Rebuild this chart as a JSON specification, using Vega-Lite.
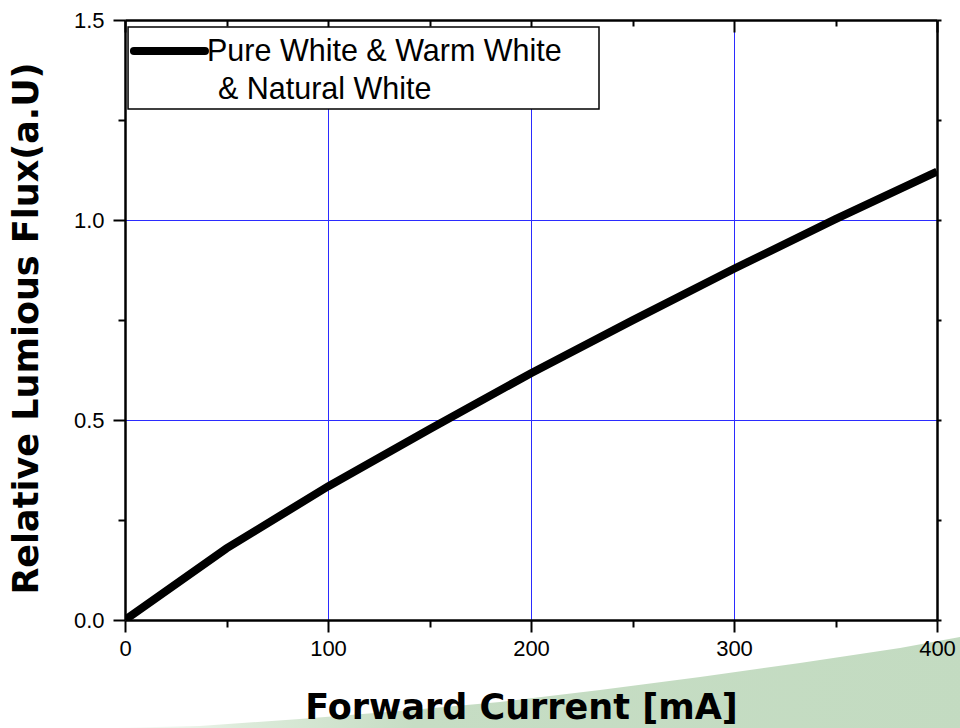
{
  "$schema": "https://vega.github.io/schema/vega-lite/v6.json",
  "width": 812,
  "height": 600,
  "autosize": {"type": "none"},
  "padding": {"left": 125, "top": 20, "right": 23, "bottom": 108},
  "background": "white",
  "config": {"view": {"stroke": null}},
  "datasets": {
    "curve": [
      {"current": 0, "flux": 0},
      {"current": 50, "flux": 0.179},
      {"current": 100, "flux": 0.334},
      {"current": 150, "flux": 0.477},
      {"current": 200, "flux": 0.617},
      {"current": 250, "flux": 0.749},
      {"current": 300, "flux": 0.878},
      {"current": 350, "flux": 1.002},
      {"current": 400, "flux": 1.121}
    ],
    "green": [
      {"gx": -7.4, "gy": -0.27, "gy2": -0.4},
      {"gx": 36.9, "gy": -0.265, "gy2": -0.4},
      {"gx": 86.2, "gy": -0.2475, "gy2": -0.4},
      {"gx": 135.5, "gy": -0.2275, "gy2": -0.4},
      {"gx": 184.7, "gy": -0.205, "gy2": -0.4},
      {"gx": 234, "gy": -0.175, "gy2": -0.4},
      {"gx": 283.3, "gy": -0.1425, "gy2": -0.4},
      {"gx": 332.5, "gy": -0.1075, "gy2": -0.4},
      {"gx": 381.8, "gy": -0.07, "gy2": -0.4},
      {"gx": 411.3, "gy": -0.0425, "gy2": -0.4},
      {"gx": 421.2, "gy": -0.0325, "gy2": -0.4}
    ],
    "legendbox": [{"lx": 1.5, "lx2": 233.5, "ly": 1.4825, "ly2": 1.2775}],
    "legendline": [{"lx": 4.4, "lx2": 39.4, "ly": 1.4225}],
    "legendtext": [
      {"lx": 40.4, "ly": 1.3975, "label": "Pure White & Warm White"},
      {"lx": 45.8, "ly": 1.3025, "label": "& Natural White"}
    ]
  },
  "layer": [
    {
      "data": {"name": "green"},
      "mark": {
        "type": "area",
        "clip": false,
        "color": {
          "gradient": "linear",
          "x1": 0, "x2": 1, "y1": 0, "y2": 0,
          "stops": [
            {"offset": 0, "color": "#ffffff"},
            {"offset": 0.15, "color": "#dcebda"},
            {"offset": 0.35, "color": "#c6ddc4"},
            {"offset": 1, "color": "#c3dbc1"}
          ]
        }
      },
      "encoding": {
        "x": {
          "field": "gx", "type": "quantitative",
          "scale": {"domain": [0, 400], "nice": false, "zero": false},
          "axis": {
            "orient": "top",
            "values": [0, 50, 100, 150, 200, 250, 300, 350, 400],
            "title": null,
            "labels": false,
            "grid": true,
            "gridColor": "#2b2bff",
            "gridWidth": 1,
            "gridOpacity": {"condition": {"test": "datum.value % 100 === 0 && datum.value > 0 && datum.value < 400", "value": 1}, "value": 0},
            "domain": true,
            "domainColor": "black",
            "domainWidth": 2.5,
            "ticks": true,
            "tickColor": "black",
            "tickWidth": 2,
            "tickSize": {"condition": {"test": "datum.value % 100 === 0", "value": -12}, "value": -6},
            "zindex": 0
          }
        },
        "y": {
          "field": "gy", "type": "quantitative",
          "scale": {"domain": [0, 1.5], "nice": false, "zero": false},
          "axis": {
            "orient": "right",
            "values": [0, 0.25, 0.5, 0.75, 1, 1.25, 1.5],
            "title": null,
            "labels": false,
            "grid": true,
            "gridColor": "#2b2bff",
            "gridWidth": 1,
            "gridOpacity": {"condition": {"test": "datum.value === 0.5 || datum.value === 1", "value": 1}, "value": 0},
            "domain": true,
            "domainColor": "black",
            "domainWidth": 2.5,
            "ticks": true,
            "tickColor": "black",
            "tickWidth": 2,
            "tickSize": 4,
            "zindex": 0
          }
        },
        "y2": {"field": "gy2"}
      }
    },
    {
      "data": {"name": "curve"},
      "mark": {"type": "line", "color": "black", "strokeWidth": 8, "strokeCap": "butt", "clip": true},
      "encoding": {
        "x": {
          "field": "current", "type": "quantitative",
          "axis": {
            "orient": "bottom",
            "values": [0, 50, 100, 150, 200, 250, 300, 350, 400],
            "labelExpr": "datum.value % 100 === 0 ? datum.label : ''",
            "labelFont": "Liberation Sans",
            "labelFontSize": 22,
            "labelColor": "black",
            "labelPadding": 6,
            "labelFlush": false,
            "labelOverlap": false,
            "grid": false,
            "domain": true,
            "domainColor": "black",
            "domainWidth": 2.5,
            "ticks": true,
            "tickColor": "black",
            "tickWidth": 2,
            "tickSize": {"condition": {"test": "datum.value % 100 === 0", "value": 12}, "value": 7},
            "title": "Forward Current [mA]",
            "titleFont": "DejaVu Sans",
            "titleFontWeight": "bold",
            "titleFontSize": 35,
            "titleColor": "black",
            "titlePadding": 31,
            "titleX": 396,
            "zindex": 1
          }
        },
        "y": {
          "field": "flux", "type": "quantitative",
          "axis": {
            "orient": "left",
            "values": [0, 0.25, 0.5, 0.75, 1, 1.25, 1.5],
            "format": ".1f",
            "labelExpr": "(datum.value * 2) % 1 === 0 ? datum.label : ''",
            "labelFont": "Liberation Sans",
            "labelFontSize": 22,
            "labelColor": "black",
            "labelPadding": 9,
            "labelFlush": false,
            "labelOverlap": false,
            "grid": false,
            "domain": true,
            "domainColor": "black",
            "domainWidth": 2.5,
            "ticks": true,
            "tickColor": "black",
            "tickWidth": 2,
            "tickSize": {"condition": {"test": "(datum.value * 2) % 1 === 0", "value": 12}, "value": 7},
            "title": "Relative Lumious Flux(a.U)",
            "titleFont": "DejaVu Sans",
            "titleFontWeight": "bold",
            "titleFontSize": 35,
            "titleColor": "black",
            "titlePadding": 29,
            "titleY": 308,
            "zindex": 1
          }
        }
      }
    },
    {
      "data": {"name": "legendbox"},
      "mark": {"type": "rect", "fill": "white", "stroke": "black", "strokeWidth": 1.5},
      "encoding": {
        "x": {"field": "lx", "type": "quantitative", "axis": null},
        "x2": {"field": "lx2"},
        "y": {"field": "ly", "type": "quantitative", "axis": null},
        "y2": {"field": "ly2"}
      }
    },
    {
      "data": {"name": "legendline"},
      "mark": {"type": "rule", "color": "black", "strokeWidth": 8, "strokeCap": "round"},
      "encoding": {
        "x": {"field": "lx", "type": "quantitative", "axis": null},
        "x2": {"field": "lx2"},
        "y": {"field": "ly", "type": "quantitative", "axis": null}
      }
    },
    {
      "data": {"name": "legendtext"},
      "mark": {"type": "text", "align": "left", "baseline": "alphabetic", "font": "Liberation Sans", "fontSize": 30.5, "color": "black"},
      "encoding": {
        "x": {"field": "lx", "type": "quantitative", "axis": null},
        "y": {"field": "ly", "type": "quantitative", "axis": null},
        "text": {"field": "label"}
      }
    }
  ]
}
